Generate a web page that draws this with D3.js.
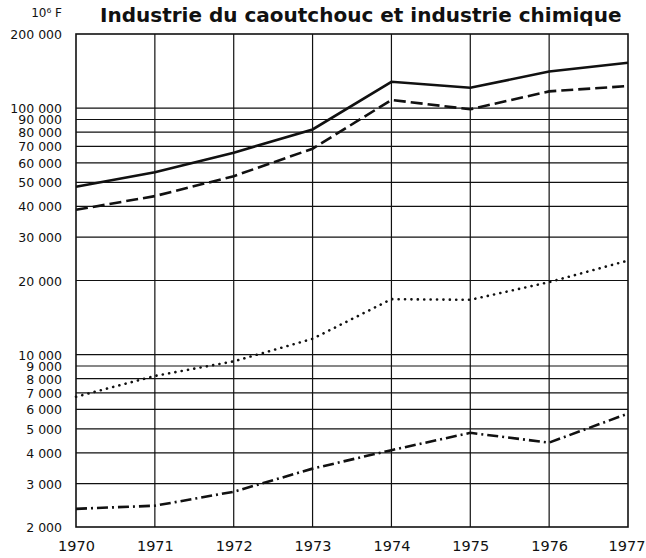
<!DOCTYPE html>
<html lang="fr">
<head>
    <meta charset="UTF-8">
    <title>Industrie du caoutchouc et industrie chimique</title>
    <script src="https://d3js.org/d3.v7.min.js"></script>
    <style>
        body { margin: 0; background: #fff; }
        text { font-family: "DejaVu Sans", sans-serif; fill: #111; }
    </style>
</head>
<body>
<script>
    const years = [1970, 1971, 1972, 1973, 1974, 1975, 1976, 1977];
    const solidSeries = [48000, 55000, 66000, 82000, 128000, 121000, 141000, 153000];
    const dashedSeries = [38700, 44000, 53000, 68500, 108000, 99000, 117000, 123000];
    const dottedSeries = [6750, 8200, 9400, 11600, 16800, 16700, 19700, 24100];
    const dashDotSeries = [2370, 2440, 2780, 3450, 4100, 4820, 4400, 5770];
    const gridValues = [3000, 4000, 5000, 6000, 7000, 8000, 9000, 10000,
        20000, 30000, 40000, 50000, 60000, 70000, 80000, 90000, 100000];
    const tickValues = [2000, 3000, 4000, 5000, 6000, 7000, 8000, 9000, 10000,
        20000, 30000, 40000, 50000, 60000, 70000, 80000, 90000, 100000, 200000];

    const WIDTH = 646, HEIGHT = 558;
    const plotL = 76, plotR = 628, plotT = 34, plotB = 527;

    const x = d3.scaleLinear().domain([1970, 1977]).range([plotL, plotR]);
    const y = d3.scaleLog().domain([2000, 200000]).range([plotB, plotT]);

    const fmt = v => d3.format(",")(v).replace(/,/g, " ");

    const svg = d3.select("body").append("svg")
        .attr("width", WIDTH).attr("height", HEIGHT);

    // grid
    svg.append("g").selectAll("line").data(gridValues).join("line")
        .attr("x1", plotL).attr("x2", plotR)
        .attr("y1", d => y(d)).attr("y2", d => y(d))
        .attr("stroke", "#111").attr("stroke-width", 1.2);
    svg.append("g").selectAll("line").data(years.slice(1, -1)).join("line")
        .attr("x1", d => x(d)).attr("x2", d => x(d))
        .attr("y1", plotT).attr("y2", plotB)
        .attr("stroke", "#111").attr("stroke-width", 1.2);
    svg.append("rect")
        .attr("x", plotL).attr("y", plotT)
        .attr("width", plotR - plotL).attr("height", plotB - plotT)
        .attr("fill", "none").attr("stroke", "#111").attr("stroke-width", 1.6);

    // y labels
    const yAxis = svg.append("g").attr("transform", `translate(${plotL},0)`)
        .call(d3.axisLeft(y).tickValues(tickValues).tickFormat(fmt).tickSize(0).tickPadding(14));
    yAxis.select(".domain").remove();
    yAxis.selectAll("text").style("font-size", "12.5px").attr("font-family", null)
        .attr("dy", "0.36em");

    // x labels
    const xAxis = svg.append("g").attr("transform", `translate(0,${plotB})`)
        .call(d3.axisBottom(x).tickValues(years).tickFormat(d3.format("d")).tickSize(0).tickPadding(14));
    xAxis.select(".domain").remove();
    xAxis.selectAll("text").style("font-size", "14.5px").attr("font-family", null)
        .attr("text-anchor", d => d === 1977 ? "end" : "middle")
        .attr("dx", d => d === 1977 ? "17" : null);

    // series
    const line = d3.line().x((d, i) => x(years[i])).y(d => y(d));
    const series = [
        { values: solidSeries, dash: null, cap: "butt" },
        { values: dashedSeries, dash: "12 5", cap: "butt" },
        { values: dottedSeries, dash: "0.1 6.3", cap: "round" },
        { values: dashDotSeries, dash: "11 4 2 4", cap: "butt" }
    ];
    svg.append("g").selectAll("path").data(series).join("path")
        .attr("d", d => line(d.values))
        .attr("fill", "none").attr("stroke", "#111")
        .attr("stroke-width", 2.6)
        .attr("stroke-linecap", d => d.cap)
        .attr("stroke-dasharray", d => d.dash);

    // titles
    svg.append("text").attr("x", 62).attr("y", 17).attr("text-anchor", "end")
        .style("font-size", "12px").text("10\u2076 F");
    svg.append("text").attr("x", 100).attr("y", 22)
        .style("font-size", "20px").style("font-weight", "bold")
        .text("Industrie du caoutchouc et industrie chimique");
</script>
</body>
</html>
